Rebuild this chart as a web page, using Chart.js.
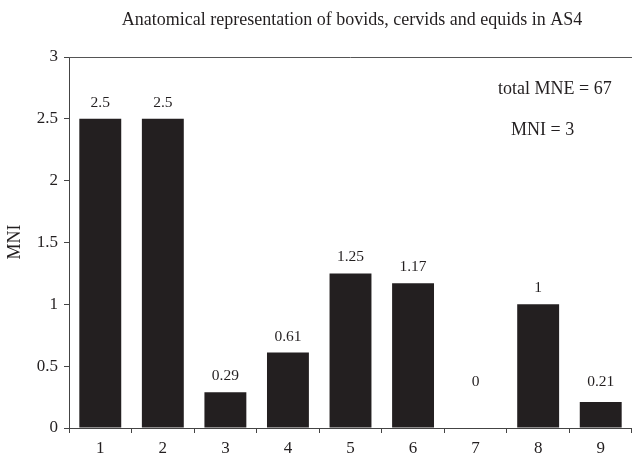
<!DOCTYPE html>
<html>
<head>
<meta charset="utf-8">
<script src="https://cdn.jsdelivr.net/npm/chart.js@4/dist/chart.umd.min.js"></script>
<style>
html,body{margin:0;padding:0;background:#fff;}
#wrap{width:632px;height:461px;}
</style>
</head>
<body>
<div id="wrap"><canvas id="c" width="632" height="461"></canvas></div>
<script>
const categories = ["1","2","3","4","5","6","7","8","9"];
const mniValues = [2.5, 2.5, 0.29, 0.61, 1.25, 1.17, 0, 1, 0.21];
const valueLabels = ["2.5","2.5","0.29","0.61","1.25","1.17","0","1","0.21"];
const chartTitle = "Anatomical representation of bovids, cervids and equids in AS4";
const yTitle = "MNI";
const notes = ["total MNE = 67", "MNI = 3"];

const SERIF = '"Liberation Serif", "Times New Roman", serif';
const INK = '#231f20';

const extras = {
  id: 'extras',
  afterDraw(chart) {
    const ctx = chart.ctx;
    const a = chart.chartArea;
    const y = chart.scales.y;
    ctx.save();
    ctx.strokeStyle = '#555';
    ctx.lineWidth = 1;
    ctx.beginPath();
    ctx.moveTo(a.left, Math.round(a.top) + 0.5);
    ctx.lineTo(a.right, Math.round(a.top) + 0.5);
    ctx.stroke();
    ctx.fillStyle = INK;
    ctx.font = '18px ' + SERIF;
    ctx.textAlign = 'center';
    ctx.textBaseline = 'middle';
    ctx.fillText(chartTitle, 352, 20);
    ctx.save();
    ctx.translate(15, 242);
    ctx.rotate(-Math.PI / 2);
    ctx.font = '18px ' + SERIF;
    ctx.fillText(yTitle, 0, 0);
    ctx.restore();
    ctx.font = '18px ' + SERIF;
    ctx.textAlign = 'left';
    ctx.fillText(notes[0], 498, 89);
    ctx.fillText(notes[1], 511, 130);
    ctx.font = '15.5px ' + SERIF;
    ctx.textAlign = 'center';
    const meta = chart.getDatasetMeta(0);
    const zeroPx = y.getPixelForValue(0);
    meta.data.forEach((bar, i) => {
      const ly = Math.min(bar.y - 16, zeroPx - 46);
      ctx.fillText(valueLabels[i], bar.x, ly);
    });
    ctx.restore();
  }
};

new Chart(document.getElementById('c'), {
  type: 'bar',
  data: {
    labels: categories,
    datasets: [{
      data: mniValues,
      backgroundColor: INK,
      borderWidth: 0,
      barPercentage: 0.67,
      categoryPercentage: 1.0
    }]
  },
  options: {
    responsive: false,
    animation: false,
    devicePixelRatio: 1,
    layout: { padding: { top: 57, right: 0, left: 0, bottom: 0 } },
    plugins: { legend: { display: false }, tooltip: { enabled: false }, title: { display: false } },
    scales: {
      x: {
        grid: { display: true, drawOnChartArea: false, offset: true, tickLength: 5, color: '#444', tickWidth: 1 },
        border: { display: true, color: '#444', width: 1 },
        ticks: { color: INK, font: { family: SERIF, size: 17 }, padding: 5, maxRotation: 0 },
        afterFit(s) { s.height = 33; }
      },
      y: {
        min: 0, max: 3,
        grid: { display: true, drawOnChartArea: false, tickLength: 5, color: '#444' },
        border: { display: true, color: '#444', width: 1 },
        ticks: { stepSize: 0.5, color: INK, font: { family: SERIF, size: 17 }, padding: 6,
          callback: v => String(v) },
        afterFit(s) { s.width = 69; }
      }
    }
  },
  plugins: [extras]
});
</script>
</body>
</html>
